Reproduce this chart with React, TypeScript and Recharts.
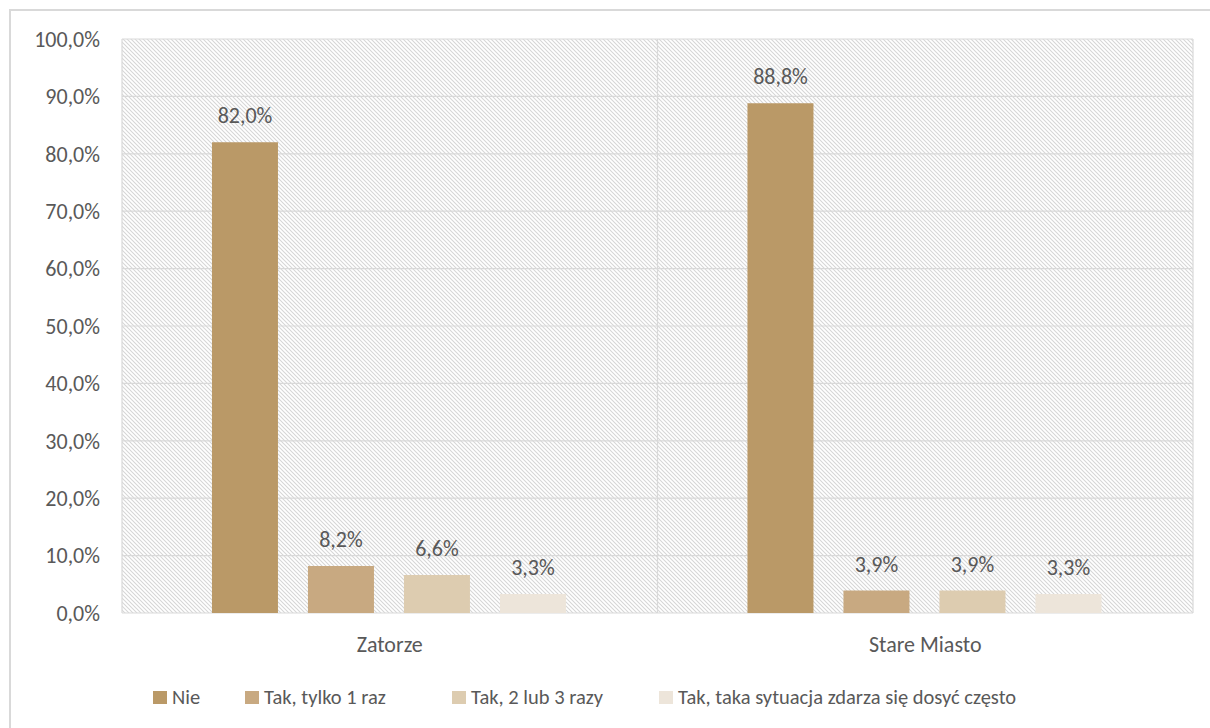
import { BarChart, Bar, XAxis, YAxis, CartesianGrid, LabelList } from "recharts";

const districts = ["Zatorze", "Stare Miasto"];
const nie = [82.0, 88.8];
const takRaz = [8.2, 3.9];
const takKilka = [6.6, 3.9];
const takCzesto = [3.3, 3.3];
const yTicks = [0, 10, 20, 30, 40, 50, 60, 70, 80, 90, 100];

const series = [
  { key: "nie", name: "Nie", values: nie, color: "#BA9967" },
  { key: "takRaz", name: "Tak, tylko 1 raz", values: takRaz, color: "#C8A981" },
  { key: "takKilka", name: "Tak, 2 lub 3 razy", values: takKilka, color: "#DDCCB0" },
  { key: "takCzesto", name: "Tak, taka sytuacja zdarza się dosyć często", values: takCzesto, color: "#EDE5DA" },
];

const data = districts.map((d, i) => {
  const row: Record<string, string | number> = { district: d };
  series.forEach(s => {
    row[s.key] = s.values[i];
  });
  return row;
});

const FONT = "Carlito, Calibri, Lato, sans-serif";
const TEXT = "#595959";
const GRID = "#d9d9d9";
const FS = 22;

const pct = (v: number) => `${v.toFixed(1).replace(".", ",")}%`;

// excel-like legend columns
const legendWidths = [92, 207, 207, 400];

export default function App() {
  return (
    <div style={{ position: "absolute", left: 0, top: 0, width: 1210, height: 728, background: "#fff", fontFamily: FONT }}>
      <div
        style={{
          position: "absolute",
          left: 9,
          top: 9,
          width: 1210,
          height: 728,
          borderTop: `2px solid ${GRID}`,
          borderLeft: `2px solid ${GRID}`,
        }}
      />
      <BarChart
        width={1210}
        height={728}
        data={data}
        margin={{ top: 39, right: 17, bottom: 75, left: 0 }}
        barCategoryGap="16.8%"
        barGap={30}
        style={{ position: "absolute", left: 0, top: 0 }}
      >
        <defs>
          <pattern id="hatch" width="4" height="4" patternUnits="userSpaceOnUse">
            <path d="M0,0 L4,4 M-1,3 L1,5 M3,-1 L5,1" stroke="#d6d6d6" strokeWidth="1.1" />
          </pattern>
        </defs>
        <CartesianGrid
          fill="url(#hatch)"
          fillOpacity={1}
          stroke={GRID}
          strokeWidth={1.2}
          verticalCoordinatesGenerator={({ offset }: any) => [
            offset.left,
            offset.left + offset.width / 2,
            offset.left + offset.width,
          ]}
        />
        <XAxis
          dataKey="district"
          axisLine={false}
          tickLine={false}
          tickSize={0}
          tickMargin={23}
          height={40}
          tick={{ fill: TEXT, fontSize: FS, fontFamily: FONT }}
        />
        <YAxis
          domain={[0, 100]}
          ticks={yTicks}
          width={122}
          axisLine={false}
          tickLine={false}
          tickSize={0}
          tickMargin={22}
          tickFormatter={pct}
          tick={{ fill: TEXT, fontSize: FS, fontFamily: FONT }}
        />
        {series.map(s => (
          <Bar key={s.key} dataKey={s.key} name={s.name} fill={s.color} isAnimationActive={false}>
            <LabelList
              dataKey={s.key}
              position="top"
              offset={19}
              formatter={(v: any) => pct(Number(v))}
              style={{ fill: TEXT, fontSize: FS, fontFamily: FONT }}
            />
          </Bar>
        ))}
      </BarChart>
      <div
        style={{
          position: "absolute",
          left: 153,
          top: 684,
          display: "flex",
          alignItems: "center",
          color: TEXT,
          fontSize: 20.5,
          whiteSpace: "nowrap",
        }}
      >
        {series.map((s, i) => (
          <div key={s.key} style={{ width: legendWidths[i], display: "flex", alignItems: "center" }}>
            <span style={{ display: "inline-block", width: 14, height: 13, background: s.color, marginRight: 5 }} />
            <span>{s.name}</span>
          </div>
        ))}
      </div>
    </div>
  );
}
